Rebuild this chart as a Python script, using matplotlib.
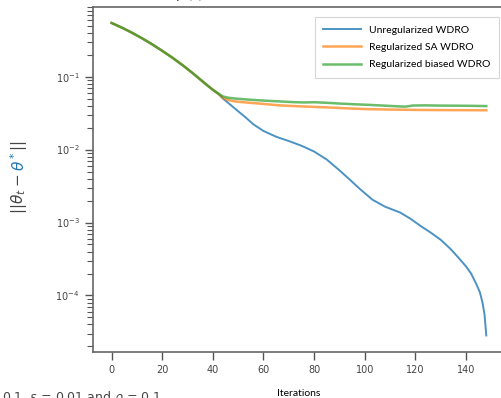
import numpy as np
from matplotlib import pyplot as plt

# values (the three runs coincide up to iteration ~42)
t_shared = [0, 4, 8, 12, 16, 20, 24, 28, 32, 36, 38, 40, 42]
v_shared = [0.544, 0.471, 0.401, 0.336, 0.278, 0.226, 0.182, 0.144, 0.112, 0.0857,
            0.0750, 0.0660, 0.0590]

t_blue = [44, 47, 50, 53, 56, 60, 65, 70, 75, 80, 85, 90, 94, 98, 103, 108, 114,
          118, 122, 126, 130, 134, 137, 140, 142, 144, 145.5, 146.5, 147.3, 148]
v_blue = [0.0500, 0.0410, 0.0335, 0.0275, 0.0222, 0.0180, 0.0150, 0.0131, 0.0113,
          0.0094, 0.0073, 0.0052, 0.0039, 0.0029, 0.00206, 0.00165, 0.00137,
          0.00113, 0.00090, 0.00073, 0.00058, 0.00043, 0.00033, 0.00025, 0.00020,
          0.000145, 0.00011, 8.0e-5, 5.5e-5, 2.83e-5]

t_green = [44, 46, 48, 50, 55, 60, 66, 72, 76, 80, 84, 90, 96, 102, 108, 113, 116,
           119, 124, 130, 136, 142, 148]
v_green = [0.0535, 0.0515, 0.0505, 0.0497, 0.0482, 0.0470, 0.0458, 0.0447, 0.0443,
           0.0446, 0.0440, 0.0428, 0.0418, 0.0410, 0.0400, 0.0392, 0.0388, 0.0402,
           0.0404, 0.0401, 0.0400, 0.0398, 0.0395]

t_orange = [44, 46, 48, 50, 55, 60, 66, 72, 80, 88, 95, 102, 110, 120, 130, 140, 148]
v_orange = [0.0510, 0.0480, 0.0462, 0.0452, 0.0437, 0.0423, 0.0405, 0.0395, 0.0385,
            0.0375, 0.0365, 0.0358, 0.0354, 0.0350, 0.0348, 0.0347, 0.0346]

labels = ['Unregularized WDRO', 'Regularized SA WDRO', 'Regularized biased WDRO']
xticks = [0, 20, 40, 60, 80, 100, 120, 140]

fig = plt.figure(figsize=(5.02, 3.98), dpi=100)
ax = fig.add_axes([0.185, 0.1156, 0.821, 0.8668])

ax.plot(t_shared + t_blue, v_shared + v_blue, color='#1f77b4', alpha=0.8, lw=1.4,
        label=labels[0])
ax.plot(t_shared + t_orange, v_shared + v_orange, color='#ff7f0e', alpha=0.7, lw=1.8,
        label=labels[1])
ax.plot(t_shared + t_green, v_shared + v_green, color='#2ca02c', alpha=0.7, lw=1.8,
        label=labels[2])

ax.set_yscale('log')
ax.set_xlim(-7.4, 155.4)
ax.set_ylim(10 ** -4.775, 10 ** -0.045)
ax.set_xticks(xticks)

for s in ax.spines.values():
    s.set_color('#666666')
    s.set_linewidth(1.2)
ax.tick_params(which='major', direction='out', length=6, width=1, color='#555555',
               labelsize=7, labelcolor='#444444')
ax.tick_params(which='minor', direction='out', length=4, width=0.8, color='#555555')

ax.set_xlabel('Iterations', family='Lato', fontsize=7.5, labelpad=10)

leg = ax.legend(loc='upper right', prop={'family': 'Lato', 'size': 7.5},
                labelspacing=0.75, handlelength=3.6, borderpad=0.8,
                fancybox=False, edgecolor='#cccccc', bbox_to_anchor=(0.997, 0.985))
leg.get_frame().set_linewidth(0.8)

# y label with coloured theta*
t1 = fig.text(0.038, 1 - 214 / 398, r'$||\theta_t -$', rotation=90,
              ha='center', va='bottom', fontsize=11, color='#444444')
t2 = ax.annotate(r'$\theta^*$', xy=(0.5, 1), xycoords=t1, xytext=(0, 2),
                 textcoords='offset points', rotation=90,
                 ha='center', va='bottom', fontsize=11, color='#1f77b4')
t3 = ax.annotate(r'$||$', xy=(0.5, 1), xycoords=t2, rotation=90,
                 ha='center', va='bottom', fontsize=11, color='#444444')

# fragments of surrounding text cut off by the crop
fig.text(0.36, 1 - 3 / 398, r'$\sim p(\cdot)$', ha='center', va='bottom',
         fontsize=11, color='#444444')
fig.text(0.004, 1 - 389 / 398, r'0.1, $\epsilon$ = 0.01 and $\rho$ = 0.1',
         ha='left', va='top', fontsize=9, color='#444444')

fig.savefig('out.png', dpi=100)
